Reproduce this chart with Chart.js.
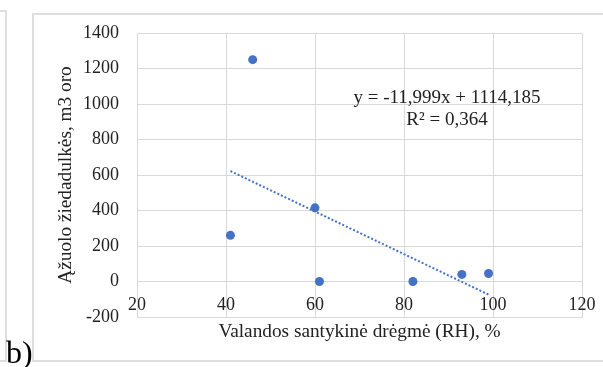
<!DOCTYPE html>
<html>
<head>
<meta charset="utf-8">
<script src="https://cdn.jsdelivr.net/npm/chart.js@4.4.0/dist/chart.umd.min.js"></script>
<style>
  html, body { margin: 0; padding: 0; background: #fff; }
  #wrap { position: relative; width: 603px; height: 367px; overflow: hidden; }
  .prev { position: absolute; left: -10px; top: 10px; width: 13px; height: 348px; border: 2px solid #dedede; }
  .box { position: absolute; left: 32px; top: 13px; width: 600px; height: 345px; border: 2px solid #dedede; }
  canvas { position: absolute; left: 0; top: 0; }
  .eq { position: absolute; left: 347px; top: 86px; width: 200px; text-align: center;
        font: 19px 'Liberation Serif', serif; line-height: 22.4px; color: #222; white-space: nowrap; }
  .tag { position: absolute; left: 6px; top: 336px; font: 32px 'Liberation Serif', serif; line-height: 32px; color: #000; }
</style>
</head>
<body>
<div id="wrap">
  <div class="prev"></div>
  <div class="box"></div>
  <canvas id="c" width="603" height="367"></canvas>
  <div class="eq">y = -11,999x + 1114,185<br>R² = 0,364</div>
  <div class="tag">b)</div>
</div>
<script>
// values
const rh = [41, 46, 60, 61, 82, 93, 99];
const pollen = [260, 1250, 415, 0, 0, 40, 45];
const xTicks = [20, 40, 60, 80, 100, 120];
const yTicks = [-200, 0, 200, 400, 600, 800, 1000, 1200, 1400];
// trendline as printed on the chart
const slope = -11.999;
const intercept = 1114.185;

const blue = '#4472C4';
const grid = '#d9d9d9';
const font = { family: 'Liberation Serif', size: 18 };
const titleFont = { family: 'Liberation Serif', size: 19.3 };

const points = rh.map((x, i) => ({ x: x, y: pollen[i] }));
const xLo = Math.min(...rh), xHi = Math.max(...rh);
const trend = [xLo, xHi].map(x => ({ x: x, y: slope * x + intercept }));

new Chart(document.getElementById('c'), {
  type: 'scatter',
  data: {
    datasets: [
      {
        type: 'line',
        data: trend,
        borderColor: blue,
        borderWidth: 2,
        borderDash: [2, 2],
        pointRadius: 0,
        fill: false
      },
      {
        data: points,
        backgroundColor: blue,
        borderColor: blue,
        borderWidth: 0,
        pointRadius: 4.5
      }
    ]
  },
  options: {
    responsive: false,
    animation: false,
    layout: { padding: { top: 33, right: 21, left: 0, bottom: 0 } },
    plugins: { legend: { display: false }, tooltip: { enabled: false } },
    scales: {
      x: {
        type: 'linear',
        min: xTicks[0],
        max: xTicks[xTicks.length - 1],
        afterBuildTicks: s => { s.ticks = xTicks.map(v => ({ value: v })); },
        afterFit: s => { s.height = 50; },
        grid: { color: grid, lineWidth: 1, drawTicks: false },
        border: { color: grid },
        // mirrored labels sit just above the bottom edge, unclipped
        ticks: { font: font, color: '#222', padding: 1, maxRotation: 0, mirror: true,
                 callback: v => String(v) },
        title: { display: true, text: 'Valandos santykinė drėgmė (RH), %',
                 font: titleFont, color: '#222', padding: { top: 0, bottom: 23.5 } }
      },
      y: {
        type: 'linear',
        min: yTicks[0],
        max: yTicks[yTicks.length - 1],
        afterBuildTicks: s => { s.ticks = yTicks.map(v => ({ value: v })); },
        afterFit: s => { s.width = 137; },
        grid: { color: grid, lineWidth: 1, drawTicks: false },
        border: { color: grid },
        ticks: { font: font, color: '#222', padding: 18,
                 callback: v => String(v) },
        title: { display: true, text: 'Ąžuolo žiedadulkės, m3 oro',
                 font: titleFont, color: '#222', padding: { top: 54, bottom: 0 } }
      }
    }
  }
});
</script>
</body>
</html>
